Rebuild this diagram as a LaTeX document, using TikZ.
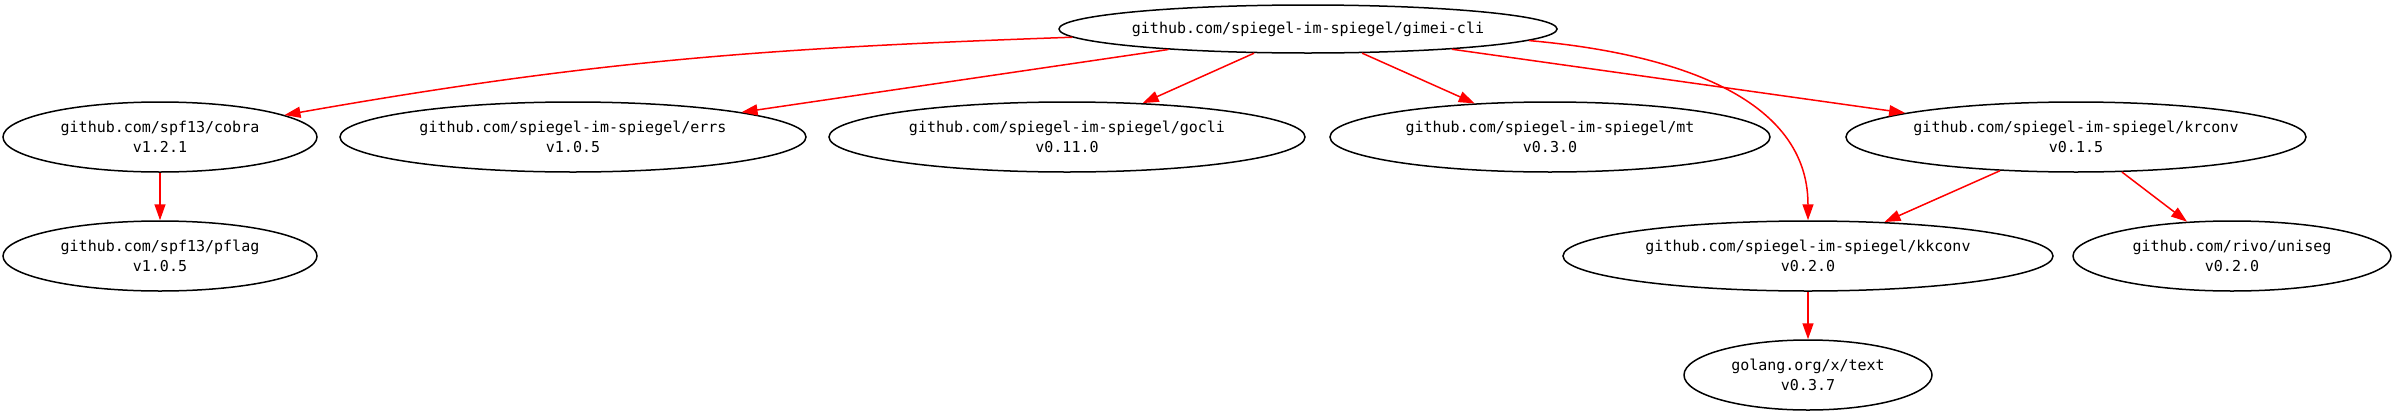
\documentclass[tikz,border=0pt]{standalone}
\usepackage{fontspec}
\setmonofont{DejaVu Sans Mono}
\usetikzlibrary{arrows.meta,shapes.geometric,positioning}

\begin{document}
\begin{tikzpicture}[x=0.5pt,y=-0.5pt,->,>={Triangle[length=8pt,width=5.5pt]},line width=0.75pt,node distance=59.5pt]
	\tikzstyle{pkg}=[ellipse,draw=black,fill=white,text=black,align=center,inner sep=0pt,minimum height=35pt,font=\ttfamily\fontsize{7.5}{10}\selectfont]
	\tikzstyle{dep}=[color=red]

	\useasboundingbox (0,0) rectangle (2394,418);

	\node[pkg,minimum width=242pt,minimum height=24pt] (gimei) at (1308,29)  {github.com/spiegel-im-spiegel/gimei-cli};
	\node[pkg,minimum width=157pt] (cobra)  at (160,137)  {github.com/spf13/cobra\\v1.2.1};
	\node[pkg,minimum width=233pt] (errs)   at (573,137)  {github.com/spiegel-im-spiegel/errs\\v1.0.5};
	\node[pkg,minimum width=238pt] (gocli)  at (1067,137) {github.com/spiegel-im-spiegel/gocli\\v0.11.0};
	\node[pkg,minimum width=220pt] (mt)     at (1550,137) {github.com/spiegel-im-spiegel/mt\\v0.3.0};
	\node[pkg,minimum width=230pt] (krconv) at (2076,137) {github.com/spiegel-im-spiegel/krconv\\v0.1.5};
	\node[pkg,minimum width=157pt] (pflag)  [below of=cobra] {github.com/spf13/pflag\\v1.0.5};
	\node[pkg,minimum width=245pt] (kkconv) at (1808,256) {github.com/spiegel-im-spiegel/kkconv\\v0.2.0};
	\node[pkg,minimum width=159pt] (uniseg) at (2232,256) {github.com/rivo/uniseg\\v0.2.0};
	\node[pkg,minimum width=124pt] (text)   [below of=kkconv] {golang.org/x/text\\v0.3.7};

	\path[dep] (gimei.182) edge [out=182,in=10]  (cobra)
	           (gimei) edge                     (errs)
	                   edge                     (gocli)
	                   edge                     (mt)
	                   edge                     (krconv)
	           (gimei.-3) edge [out=-5,in=90]   (kkconv)
	           (cobra) edge                     (pflag)
	           (krconv) edge                    (kkconv)
	                    edge                    (uniseg)
	           (kkconv) edge                    (text);
\end{tikzpicture}
\end{document}
